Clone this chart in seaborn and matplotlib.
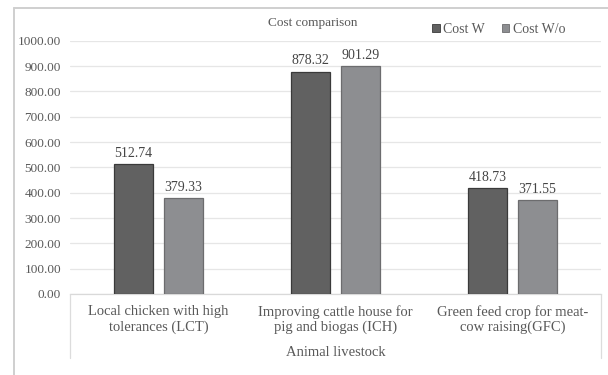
import matplotlib
matplotlib.use("Agg")
import matplotlib.pyplot as plt
from matplotlib.lines import Line2D
import seaborn as sns
import pandas as pd

# Data
categories = [
    "Local chicken with high\ntolerances (LCT)",
    "Improving cattle house for\npig and biogas (ICH)",
    "Green feed crop for meat-\ncow raising(GFC)",
]
series_names = ["Cost W", "Cost W/o"]
cost_w = [512.74, 878.32, 418.73]
cost_wo = [379.33, 901.29, 371.55]
y_ticks = [0, 100, 200, 300, 400, 500, 600, 700, 800, 900, 1000]

df = pd.DataFrame({
    "category": categories * 2,
    "series": [series_names[0]] * 3 + [series_names[1]] * 3,
    "value": cost_w + cost_wo,
})

sns.set_theme(style="white")
plt.rcParams["font.family"] = ["Liberation Serif", "DejaVu Serif"]

TEXT = "#595959"
FILL = {"Cost W": "#616161", "Cost W/o": "#8d8e91"}
EDGE = {"Cost W": "#3a3a3a", "Cost W/o": "#6c6c6e"}

W, H = 608, 375
fig = plt.figure(figsize=(W / 100, H / 100), dpi=100)
fig.patch.set_facecolor("white")
ax = fig.add_axes([70 / W, 81 / H, 531 / W, 253.3 / H])

sns.barplot(
    data=df, x="category", y="value", hue="series",
    hue_order=series_names, order=categories,
    palette=FILL, width=0.565, gap=0.21, saturation=1,
    legend=False, ax=ax, zorder=3,
)

for cont, name in zip(ax.containers, series_names):
    for bar in cont:
        bar.set_edgecolor(EDGE[name])
        bar.set_linewidth(0.9)
    ax.bar_label(cont, fmt="%.2f", padding=3, fontsize=10, color="#454545")

ax.set_ylim(0, 1000)
ax.set_xlim(-0.5, 2.5)
ax.set_yticks(y_ticks)
ax.set_yticklabels([f"{v:.2f}" for v in y_ticks])
ax.yaxis.grid(True, color="#e6e6e6", linewidth=0.9, zorder=0)
ax.set_axisbelow(True)
for side in ("top", "right", "left"):
    ax.spines[side].set_visible(False)
ax.spines["bottom"].set_color("#d9d9d9")
ax.spines["bottom"].set_linewidth(0.9)
ax.tick_params(axis="y", length=0, pad=6.5, labelsize=9.5, labelcolor=TEXT)
ax.tick_params(axis="x", length=0, pad=8, labelsize=10.5, labelcolor=TEXT)
ax.set_xlabel("Animal livestock", fontsize=10.5, color=TEXT, labelpad=8.5)
ax.set_ylabel("")

# category box side rules
for xv in (70, 601):
    fig.add_artist(Line2D([xv / W, xv / W], [1 - 294 / H, 1 - 358 / H],
                          color="#dcdcdc", linewidth=0.9))

# outer frame
fig.add_artist(Line2D([14 / W, 14 / W], [0, 1 - 8 / H], color="#cfcfcf", linewidth=1.4))
fig.add_artist(Line2D([14 / W, 1], [1 - 8 / H, 1 - 8 / H], color="#cfcfcf", linewidth=1.4))

fig.text(313 / W, 1 - 22.7 / H, "Cost comparison", ha="center", va="center",
         fontsize=9.5, color=TEXT)

handles = [plt.Rectangle((0, 0), 1, 1, facecolor=FILL[n], edgecolor=EDGE[n], linewidth=0.6)
           for n in series_names]
fig.legend(handles, series_names, loc="center left",
           bbox_to_anchor=(432 / W, 1 - 29.3 / H), ncol=2, frameon=False,
           fontsize=10, labelcolor=TEXT, handlelength=0.55, handleheight=0.55,
           handletextpad=0.25, columnspacing=1.2, borderpad=0, borderaxespad=0)

fig.savefig("out.png", dpi=100, facecolor="white")
